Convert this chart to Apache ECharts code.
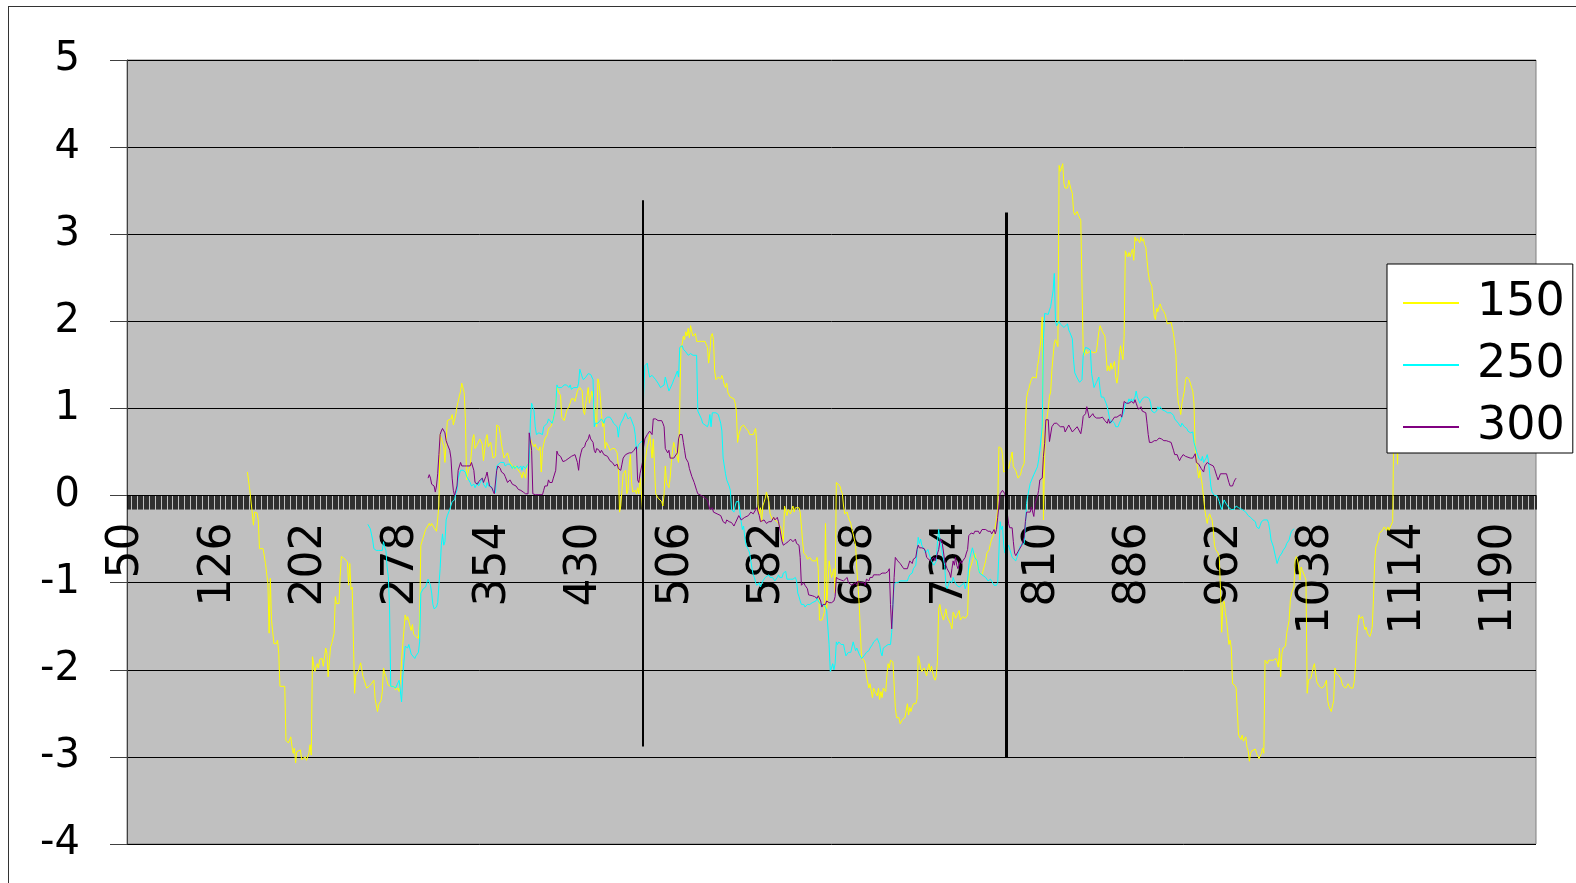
<!DOCTYPE html>
<html>
<head>
<meta charset="utf-8">
<title>150 / 250 / 300</title>
<script src="https://cdn.jsdelivr.net/npm/echarts@6.0.0/dist/echarts.min.js"></script>
<style>
  html, body { margin: 0; padding: 0; background: #fff; overflow: hidden; }
  #chart { position: absolute; left: 0; top: 0; width: 1576px; height: 883px; }
  #frame { position: absolute; left: 8px; top: 6px; width: 1700px; height: 1000px;
           border: 1px solid #333; box-sizing: border-box; pointer-events: none; }
</style>
</head>
<body>
<div id="chart"></div>
<div id="frame"></div>
<script>
// Category axis: one category per step, labelled every 76 steps (50, 126, ... 1190)
const X_FIRST = 50;
const X_LAST = 1220;
const categories = [];
for (let x = X_FIRST; x <= X_LAST; x++) categories.push(String(x));
const LABEL_EVERY = 76;

// Value axis
const yMin = -4, yMax = 5, yStep = 1;

const seriesNames = ['150', '250', '300'];

// [x, value] samples of each series
const s150 = [
[150,0.27],[152,0.06],[153,0.04],[154,-0.20],[155,-0.34],[156,-0.19],[158,-0.20],[159,-0.28],[160,-0.61],[163,-0.61],[165,-0.78],[167,-1.01],[168,-1.58],[169,-0.95],[170,-1.43],[172,-1.70],[174,-1.70],[175,-1.66],[176,-1.81],[177,-2.19],[181,-2.19],[182,-2.81],[184,-2.84],[186,-2.77],[187,-2.88],[188,-2.96],[189,-2.90],[190,-3.07],[191,-2.94],[194,-2.92],[195,-3.03],[198,-3.00],[199,-3.04],[201,-2.96],[202,-2.86],[203,-2.98],[204,-1.85],[206,-2.02],[208,-1.93],[209,-1.98],[210,-1.88],[212,-1.87],[213,-1.96],[215,-1.75],[216,-1.81],[217,-2.08],[219,-1.74],[220,-1.70],[222,-1.58],[223,-1.16],[224,-1.24],[226,-1.24],[227,-0.93],[228,-0.70],[230,-0.72],[231,-0.74],[233,-0.76],[234,-1.03],[235,-0.78],[236,-1.08],[237,-1.05],[239,-2.27],[240,-2.06],[242,-2.02],[244,-1.92],[246,-2.08],[247,-2.12],[249,-2.21],[251,-2.19],[253,-2.16],[255,-2.12],[256,-2.33],[258,-2.48],[259,-2.40],[261,-2.35],[262,-2.25],[263,-1.98],[264,-2.04],[265,-2.08],[267,-2.18],[269,-2.19],[270,-2.21],[272,-2.19],[273,-2.23],
[275,-2.21],[276,-2.25],[277,-2.12],[278,-1.89],[279,-1.71],[281,-1.37],[282,-1.43],[283,-1.39],[284,-1.37],[286,-1.55],[287,-1.48],[288,-1.59],[290,-1.62],[292,-1.64],[293,-1.43],[294,-0.57],[296,-0.48],[298,-0.39],[299,-0.37],[301,-0.32],[302,-0.35],[303,-0.32],[305,-0.37],[306,-0.39],[307,-0.41],[309,-0.12],[310,0.70],[312,0.61],[313,0.56],[314,0.38],[316,0.86],[317,0.88],[319,0.88],[320,0.93],[321,0.81],[323,0.93],[324,1.02],[325,1.08],[327,1.20],[328,1.29],[330,1.18],[331,0.88],[332,0.18],[333,0.25],[334,0.31],[335,0.34],[337,0.65],[338,0.70],[339,0.54],[341,0.59],[342,0.61],[343,0.65],[345,0.59],[346,0.40],[348,0.65],[349,0.70],[350,0.56],[352,0.61],[353,0.59],[354,0.43],[356,0.45],[357,0.81],[359,0.79],[360,0.70],[361,0.59],[363,0.43],[364,0.45],[366,0.49],[367,0.47],[368,0.38],[370,0.34],[371,0.31],[372,0.34],[374,0.31],[375,0.29],[377,0.25],[378,0.20],[379,0.27],[381,0.20],[382,0.34],[384,0.38],[385,0.65],[386,0.61],[388,0.56],[389,0.59],[390,0.54],[392,0.52],[393,0.56],[394,0.27],[395,0.52],[396,0.59],[397,0.65],[399,0.70],[400,0.77],[402,0.79],[403,0.83],[404,0.83],[406,1.02],[407,1.24],[408,1.20],[410,1.15],[411,0.90],[413,0.86],[414,0.88],
[415,0.97],[417,1.02],[418,1.06],[419,1.11],[421,1.11],[422,1.08],[424,1.20],[425,1.22],[426,1.24],[428,1.20],[429,0.97],[430,0.93],[431,1.06],[432,1.15],[433,1.24],[434,1.06],[435,1.04],[436,1.20],[437,1.13],[438,1.02],[439,0.90],[440,0.79],[441,1.34],[442,1.29],[443,1.15],[444,0.93],[445,0.79],[446,0.83],[447,0.54],[448,0.61],[450,0.56],[451,0.52],[453,0.54],[454,0.52],[455,0.54],[457,0.49],[458,0.34],[459,-0.19],[460,-0.12],[461,0.06],[462,0.25],[464,0.29],[465,0.02],[466,0.06],[467,0.34],[468,0.47],[469,0.15],[470,0.04],[472,0.06],[473,0.02],[474,0.09],[475,0.02],[476,0.20],[477,0.06],[478,-0.16],[480,0.38],[482,0.56],[483,0.61],[484,0.70],[486,0.43],[487,0.65],[488,0.34],[489,0.02],[491,-0.03],[492,-0.05],[494,-0.07],[495,-0.12],[496,0.02],[497,0.34],[498,0.15],[500,0.09],[501,0.20],[502,0.38],[503,0.52],[504,0.61],[505,0.63],[507,0.43],[508,0.38],[509,0.36],[510,1.70],[511,1.74],[512,1.83],[513,1.79],[514,1.88],[515,1.83],[516,1.92],[517,1.81],[518,1.95],[519,1.88],[520,1.83],[522,1.86],[523,1.77],[525,1.77],[527,1.77],[530,1.77],[531,1.79],[532,1.70],[533,1.52],[534,1.65],[535,1.83],[536,1.86],[537,1.79],[538,1.43],[539,1.33],[541,1.36],[543,1.34],[544,1.38],[545,1.33],[546,1.27],[547,1.24],[548,1.29],[549,1.18],[551,1.13],[552,1.13],[554,1.11],[555,1.06],[556,0.97],[557,0.61],[558,0.70],[560,0.79],[561,0.79],[562,0.81],[563,0.79],
[564,0.77],[566,0.74],[567,0.70],[568,0.72],[570,0.70],[571,0.74],[572,0.77],[573,0.56],[574,-0.10],[575,-0.21],[576,-0.14],[577,-0.30],[578,-0.12],[580,-0.03],[581,0.04],[582,0.02],[583,-0.07],[584,-0.21],[585,-0.23],[586,-0.28],[587,-0.25],[588,-0.28],[590,-0.30],[591,-0.28],[593,-0.37],[594,-0.46],[595,-0.53],[596,-0.12],[597,-0.10],[598,-0.23],[599,-0.16],[601,-0.21],[602,-0.16],[603,-0.12],[604,-0.19],[605,-0.14],[606,-0.16],[608,-0.14],[609,-0.19],[610,-0.35],[611,-0.53],[612,-0.66],[614,-0.69],[615,-0.73],[617,-0.71],[618,-0.73],[619,-0.75],[620,-0.73],[622,-0.75],[623,-0.71],[624,-0.84],[625,-1.43],[626,-1.41],[627,-1.43],[628,-1.39],[629,-1.34],[630,-0.32],[631,-1.30],[633,-0.75],[634,-0.84],[635,-0.94],[636,-0.89],[637,-0.84],[638,-1.12],[639,0.15],[640,0.13],[642,0.11],[643,0.06],[644,0.02],[645,-0.12],[646,-0.21],[648,-0.19],[649,-0.25],[651,-0.32],[652,-0.39],[653,-0.44],[655,-0.57],[656,-0.84],[657,-1.03],[658,-1.25],[659,-1.57],[660,-1.87],[662,-1.89],[663,-1.93],[664,-2.07],[666,-2.21],[667,-2.16],[669,-2.32],[670,-2.21],[671,-2.25],[673,-2.30],[674,-2.21],[675,-2.34],[676,-2.25],[677,-2.32],[678,-2.21],[680,-2.25],[681,-2.07],[682,-1.93],[683,-1.98],[684,-1.89],[685,-1.87],[686,-1.91],[687,-1.93],[688,-2.43],[689,-2.55],[690,-2.57],[691,-2.55],[692,-2.62],[694,-2.57],[695,-2.59],[696,-2.55],[698,-2.39],[699,-2.52],[700,-2.43],[701,-2.48],[702,-2.43],[703,-2.39],[705,-2.39],
[706,-2.34],[707,-1.84],[708,-1.89],[709,-1.98],[710,-2.02],[712,-1.98],[713,-1.96],[714,-2.07],[715,-1.98],[716,-1.93],[717,-2.02],[718,-1.96],[720,-2.09],[721,-2.12],[722,-2.07],[723,-1.89],[724,-1.30],[725,-1.25],[726,-1.34],[727,-1.32],[728,-1.43],[730,-1.30],[731,-1.39],[732,-1.37],[734,-1.48],[735,-1.53],[736,-1.34],[737,-1.37],[738,-1.41],[739,-1.39],[741,-1.32],[742,-1.43],[743,-1.41],[744,-1.39],[745,-1.41],[746,-1.41],[748,-1.37],[749,-0.94],[750,-0.84],[751,-0.80],[752,-0.75],[753,-0.71],[754,-0.66],[756,-0.80],[757,-0.84],[758,-0.89],[759,-0.91],[760,-0.91],[761,-0.89],[763,-0.75],[764,-0.66],[766,-0.62],[767,-0.55],[768,-0.50],[770,-0.44],[771,-0.35],[772,-0.28],[773,-0.16],[774,0.56],[776,0.54],[777,0.47],[778,0.27],[779,0.25],[782,0.31],
[783,0.37],[785,0.50],[786,0.33],[788,0.29],[789,0.24],[790,0.20],[792,0.24],[793,0.31],[795,0.37],[796,0.79],[797,1.12],[798,1.19],[799,1.23],[800,1.29],[801,1.33],[802,1.36],[803,1.38],[805,1.35],[806,1.48],[807,1.56],[808,1.67],[809,1.82],[810,2.05],[811,-0.28],[812,0.45],[813,0.80],[815,1.00],[816,1.14],[817,1.19],[818,1.44],[820,1.75],[821,1.79],[822,1.75],[823,1.71],[824,3.79],[825,3.72],[826,3.74],[827,3.81],[828,3.58],[829,3.53],[831,3.53],[832,3.62],[833,3.64],[834,3.51],[835,3.47],[836,3.26],[837,3.22],[838,3.20],[839,3.26],[840,3.22],[841,3.24],[842,3.16],[843,3.14],[844,1.67],
[845,1.61],[846,1.68],[847,1.63],[849,1.65],[851,1.65],[853,1.64],[854,1.63],[855,1.65],[857,1.88],[858,1.95],[860,1.88],[861,1.86],[862,1.83],[864,1.43],[865,1.49],[866,1.43],[867,1.52],[868,1.45],[870,1.54],[871,1.36],[872,1.29],[873,1.38],[874,1.61],[875,1.72],[876,1.63],[877,1.56],[878,1.83],[879,2.81],[881,2.74],[882,2.79],[883,2.74],[884,2.79],[885,2.83],[886,2.70],[887,2.97],[888,2.92],[889,2.95],[891,2.90],[892,2.97],[893,2.92],[894,2.95],[895,2.88],[896,2.85],[897,2.70],[898,2.56],[899,2.47],[901,2.40],[902,2.40],[903,2.06],[904,2.02],[905,2.15],[906,2.11],[907,2.17],[908,2.20],[909,2.15],[911,2.11],[912,2.08],[913,2.02],[914,1.97],[915,1.97],[917,1.99],[918,1.97],[919,1.86],[920,1.74],[921,1.61],[922,1.24],[923,1.06],[924,1.02],[925,0.93],[926,1.06],[927,1.13],[928,1.20],[929,1.33],[930,1.36],[931,1.34],[932,1.33],[933,1.29],[934,1.24],[935,1.20],[936,1.06],[937,0.52],[938,0.43],[939,0.29],[940,0.20],[941,0.29],[942,0.20],[943,0.11],[944,-0.03],[945,-0.16],[946,-0.25],[947,-0.32],[948,-0.25],[949,-0.21],[950,-0.25],[951,-0.28],[952,-0.39],[953,-0.57],[954,-0.62],[955,-0.62],[956,-0.66],[957,-0.71],[958,-1.07],[959,-1.57],[960,-1.25],[961,-1.21],[962,-1.34],[963,-1.43],[964,-1.57],[965,-1.71],[966,-1.66],[967,-1.75],[968,-2.16],[970,-2.18],[971,-2.21],[972,-2.21],[973,-2.75],[974,-2.77],[975,-2.80],[976,-2.75],[977,-2.82],[979,-2.77],[980,-2.89],[981,-2.93],[982,-3.05],[983,-2.96],[984,-2.93],[985,-2.93],[987,-2.91],
[988,-2.96],[990,-3.02],[991,-3.04],[992,-2.96],[993,-2.90],[994,-2.96],[995,-1.89],[996,-1.87],[997,-1.93],[998,-1.89],[999,-1.91],[1000,-1.89],[1001,-1.87],[1002,-1.89],[1004,-1.87],[1005,-1.91],[1006,-1.97],[1007,-1.75],[1008,-2.08],[1009,-1.81],[1010,-1.75],[1012,-1.73],[1013,-1.58],[1015,-1.43],[1016,-1.20],[1017,-1.12],[1019,-1.05],[1020,-0.74],[1021,-0.70],[1022,-0.74],[1023,-0.82],[1024,-0.97],[1025,-0.82],[1026,-0.86],[1027,-0.88],[1028,-0.93],[1029,-0.97],[1030,-2.27],[1031,-2.12],[1033,-2.10],[1034,-2.04],[1035,-1.97],[1036,-1.93],[1037,-2.04],[1038,-2.14],[1040,-2.19],[1041,-2.21],[1042,-2.21],[1044,-2.19],[1045,-2.18],[1046,-2.12],[1047,-2.35],[1048,-2.42],[1050,-2.48],[1051,-2.46],[1052,-2.35],[1053,-1.98],[1054,-2.04],[1056,-2.06],[1057,-2.08],[1058,-2.10],[1059,-2.16],[1060,-2.19],[1061,-2.18],[1062,-2.21],[1063,-2.19],[1064,-2.16],[1066,-2.21],[1067,-2.23],[1068,-2.21],[1069,-2.14],[1070,-1.97],[1071,-1.66],[1072,-1.49],[1073,-1.37],[1074,-1.41],[1076,-1.39],[1077,-1.47],[1078,-1.54],[1079,-1.51],[1080,-1.58],[1081,-1.60],[1082,-1.62],[1083,-1.58],[1084,-1.51],[1085,-1.20],[1086,-0.78],[1087,-0.59],[1088,-0.55],[1089,-0.51],[1090,-0.43],[1092,-0.41],[1093,-0.40],[1094,-0.36],[1095,-0.38],[1096,-0.40],[1097,-0.36],[1098,-0.40],[1099,-0.36],[1100,-0.36],[1101,-0.30],[1102,0.95],[1103,1.05],[1104,0.90],[1105,0.36],[1106,0.90],[1107,1.10]
];

const s250 = [
[250,-0.33],[252,-0.38],[253,-0.40],[254,-0.51],[255,-0.61],[257,-0.63],[259,-0.63],[260,-0.61],[262,-0.63],[263,-0.53],[264,-0.59],[265,-0.63],[266,-0.82],[267,-0.93],[268,-1.28],[269,-2.19],[271,-2.19],[273,-2.21],[274,-2.23],[276,-2.12],[278,-2.37],[279,-2.07],[281,-1.73],[282,-1.71],[283,-1.75],[284,-1.71],[286,-1.82],[287,-1.80],[289,-1.87],[290,-1.84],[292,-1.80],[293,-1.68],[294,-1.12],[296,-1.07],[298,-1.05],[299,-1.00],[300,-0.96],[302,-1.03],[303,-1.12],[304,-1.25],[305,-1.30],[307,-1.28],[308,-1.23],[309,-1.03],[310,-0.84],[311,-0.57],[312,-0.44],[313,-0.57],[314,-0.53],[315,-0.28],[316,-0.23],[318,-0.16],[319,-0.14],[320,-0.07],[322,-0.05],[323,0.02],[324,0.06],[325,0.20],[327,0.29],[328,0.27],[329,0.29],[331,0.27],[332,0.22],[333,0.20],[335,0.15],[336,0.11],[338,0.13],[339,0.09],[341,0.15],[342,0.11],[343,0.13],[345,0.20],[346,0.13],[348,0.09],[349,0.15],[350,0.11],[352,0.11],[353,0.09],[354,0.06],[356,0.03],[357,0.34],[358,0.36],[360,0.38],[361,0.40],[363,0.38],[364,0.34],[366,0.36],[367,0.34],[368,0.36],[370,0.31],[371,0.34],[372,0.31],[374,0.34],[375,0.31],[377,0.34],[378,0.29],[379,0.34],[381,0.31],[382,0.34],[384,0.38],[385,0.88],[386,1.06],[387,1.02],[388,0.97],[389,0.79],[390,0.70],[392,0.72],[393,0.70],[395,0.70],[396,0.79],[397,0.81],[399,0.83],[400,0.88],[401,0.86],[403,0.83],[404,0.88],[406,1.02],[407,1.27],[408,1.24],[411,1.24],[413,1.27],
[415,1.27],[417,1.24],[418,1.27],[419,1.22],[421,1.24],[422,1.22],[424,1.24],[425,1.29],[426,1.45],[427,1.43],[428,1.36],[429,1.33],[431,1.36],[432,1.36],[433,1.40],[435,1.39],[436,1.40],[437,1.33],[438,0.79],[439,0.83],[441,0.83],[442,0.81],[444,0.88],[445,0.88],[446,0.83],[447,0.88],[449,0.90],[450,0.88],[451,0.90],[453,0.86],[454,0.83],[455,0.83],[457,0.79],[458,0.67],[459,0.79],[460,0.83],[461,0.83],[462,0.88],[464,0.95],[465,0.93],[466,0.88],[468,0.90],[469,0.88],[471,0.79],[472,0.70],[473,0.52],[474,0.54],[475,0.59],[476,0.61],[478,0.63],[479,1.15],[480,1.49],[482,1.52],[483,1.43],[484,1.36],[486,1.38],[487,1.36],[489,1.33],[490,1.34],[491,1.29],[493,1.24],[494,1.22],[496,1.27],[497,1.36],[498,1.34],[500,1.20],[501,1.22],[503,1.29],[504,1.33],[505,1.36],[507,1.43],[508,1.36],[509,1.70],[511,1.72],[512,1.68],[514,1.65],[515,1.63],[516,1.61],[518,1.63],[520,1.61],[523,1.61],[524,0.97],[525,0.95],[527,0.88],[528,0.83],[530,0.81],[531,0.79],[532,0.79],[533,0.83],[534,0.93],[535,0.79],[536,0.95],[537,0.97],[539,0.95],[541,0.93],[542,0.88],[543,0.83],[544,0.74],[545,0.43],[546,0.34],[547,0.25],[548,0.18],[550,0.11],[551,0.06],[552,-0.16],[554,-0.19],[555,-0.12],[556,-0.07],[558,-0.07],[560,-0.30],[561,-0.39],[562,-0.35],[563,-0.48],
[564,-0.57],[566,-0.62],[567,-0.66],[568,-0.75],[569,-0.84],[570,-0.91],[571,-0.94],[572,-1.00],[573,-1.03],[575,-1.00],[576,-1.05],[577,-1.03],[578,-0.98],[579,-0.96],[580,-0.94],[581,-0.94],[583,-0.91],[584,-0.94],[586,-0.94],[587,-0.96],[588,-0.98],[590,-0.94],[591,-0.91],[592,-0.94],[594,-0.94],[595,-0.89],[597,-0.87],[598,-0.96],[599,-0.94],[601,-0.96],[602,-0.94],[603,-0.96],[605,-0.94],[606,-0.98],[607,-1.12],[608,-1.16],[609,-1.21],[610,-1.25],[612,-1.25],[613,-1.28],[615,-1.25],[616,-1.23],[617,-1.25],[619,-1.23],[620,-1.21],[622,-1.21],[623,-1.18],[624,-1.21],[626,-1.25],[627,-1.23],[628,-1.25],[630,-1.28],[631,-1.32],[632,-1.32],[633,-1.71],[634,-2.02],[635,-1.98],[636,-1.93],[637,-2.00],[638,-1.93],[639,-1.68],[640,-1.71],[641,-1.68],[643,-1.71],[644,-1.73],[645,-1.71],[646,-1.78],[647,-1.84],[648,-1.82],[649,-1.80],[651,-1.80],[652,-1.78],[653,-1.68],[654,-1.73],[655,-1.78],[656,-1.75],[658,-1.82],[659,-1.80],[660,-1.87],[662,-1.84],[663,-1.82],[664,-1.80],[666,-1.78],[667,-1.75],[669,-1.71],[670,-1.68],[671,-1.66],[673,-1.64],[674,-1.62],[675,-1.71],[676,-1.80],[677,-1.84],[678,-1.75],[680,-1.73],[681,-1.73],[682,-1.71],[684,-1.71],[685,-1.57],[686,-1.25],[687,-1.03],[688,-1.00],[690,-1.00],[691,-0.98],[692,-0.98],[693,-0.96],[695,-0.98],[696,-0.96],[698,-0.98],[699,-0.94],[700,-0.91],[702,-0.89],[703,-0.84],[705,-0.80],
[706,-0.66],[707,-0.48],[708,-0.55],[709,-0.50],[710,-0.57],[712,-0.62],[713,-0.66],[715,-0.62],[717,-0.71],[718,-0.75],[720,-0.80],[721,-0.78],[722,-0.75],[723,-0.53],[724,-0.39],[725,-0.50],[727,-0.66],[729,-0.80],[730,-1.03],[731,-1.07],[732,-1.03],[733,-0.98],[735,-1.00],[736,-0.94],[737,-0.98],[738,-1.00],[739,-1.03],[741,-1.05],[742,-1.07],[743,-1.03],[745,-1.00],[746,-1.07],[747,-1.03],[748,-0.98],[749,-0.80],[750,-0.71],[752,-0.60],[753,-0.62],[754,-0.71],[755,-0.73],[756,-0.75],[757,-0.84],[758,-0.89],[760,-0.91],[761,-0.89],[763,-0.94],[764,-0.96],[765,-0.98],[767,-0.96],[768,-0.98],[770,-1.03],[771,-1.05],[772,-1.03],[773,-1.00],[774,-0.66],[775,-0.30],[776,-0.39],[777,-0.35],[778,-0.57],[779,-0.66],[782,-0.57],[784,-0.66],[785,-0.71],[786,-0.71],[788,-0.75],[789,-0.71],[790,-0.66],[792,-0.57],[793,-0.55],[795,-0.55],[796,-0.36],[797,-0.09],[798,0.00],[800,0.14],[803,0.24],[806,0.33],[807,0.41],[808,0.52],[810,0.79],[811,1.80],[812,2.09],[813,2.10],[815,2.08],[816,2.13],[817,2.17],[818,2.26],[819,2.35],[820,2.55],[821,2.00],[822,1.95],[824,2.00],[825,1.97],[826,1.95],[828,1.93],[829,1.95],[831,1.97],[832,1.90],[833,1.87],[835,1.80],[836,1.56],[837,1.41],[838,1.39],[839,1.35],[840,1.33],[841,1.30],[842,1.30],[843,1.33],[844,1.61],[846,1.70],[847,1.71],[848,1.69],[850,1.67],[851,1.40],[853,1.24],[854,1.26],[855,1.30],[857,1.36],[858,1.22],
[859,1.13],[860,1.11],[861,1.13],[862,1.11],[863,1.06],[864,1.02],[866,0.88],[867,0.83],[868,0.86],[870,0.83],[871,0.79],[872,0.81],[873,0.79],[874,0.83],[875,0.86],[876,0.88],[877,0.93],[878,0.97],[879,1.06],[880,1.08],[881,1.06],[882,1.11],[883,1.08],[884,1.11],[885,1.08],[887,1.13],[888,1.20],[889,1.13],[890,1.11],[891,1.06],[892,1.08],[893,1.11],[894,1.10],[895,1.13],[896,1.15],[897,1.13],[899,1.11],[900,1.06],[901,0.97],[902,0.97],[903,0.95],[904,0.97],[905,0.97],[906,1.02],[907,0.99],[908,1.02],[909,0.99],[910,0.97],[912,0.97],[913,0.96],[914,0.95],[915,0.95],[917,0.95],[918,0.94],[919,0.92],[920,0.88],[921,0.86],[923,0.83],[924,0.81],[925,0.79],[926,0.83],[928,0.79],[929,0.78],[930,0.77],[931,0.74],[933,0.72],[934,0.71],[935,0.73],[936,0.61],[937,0.59],[938,0.51],[939,0.47],[940,0.43],[941,0.45],[942,0.40],[943,0.45],[944,0.38],[945,0.38],[946,0.43],[947,0.47],[948,0.40],[949,0.25],[950,0.11],[951,0.04],[952,0.02],[953,0.00],[955,0.00],[956,-0.03],[957,-0.07],[958,-0.12],[959,-0.16],[960,-0.10],[961,-0.05],[962,-0.07],[963,-0.10],[964,-0.12],[965,-0.14],[967,-0.16],[968,-0.14],[969,-0.16],[970,-0.14],[971,-0.12],[972,-0.10],[973,-0.14],[974,-0.16],[976,-0.16],[977,-0.17],[979,-0.19],[980,-0.21],[981,-0.23],[983,-0.25],[984,-0.26],[985,-0.28],[987,-0.30],
[988,-0.36],[990,-0.38],[991,-0.34],[992,-0.30],[994,-0.28],[995,-0.26],[997,-0.28],[998,-0.32],[999,-0.40],[1000,-0.51],[1002,-0.59],[1003,-0.66],[1005,-0.78],[1006,-0.78],[1007,-0.70],[1008,-0.68],[1009,-0.66],[1010,-0.63],[1012,-0.59],[1013,-0.55],[1015,-0.51],[1016,-0.45],[1017,-0.41],[1019,-0.38]
];

const s300 = [
[300,0.20],[301,0.24],[302,0.20],[303,0.13],[305,0.11],[306,0.04],[307,0.11],[308,0.25],[309,0.47],[310,0.70],[311,0.74],[312,0.77],[314,0.72],[315,0.63],[316,0.59],[318,0.52],[319,0.43],[320,0.20],[321,0.06],[322,0.00],[323,0.02],[324,0.11],[325,0.29],[327,0.38],[328,0.34],[330,0.34],[331,0.36],[332,0.34],[335,0.34],[336,0.38],[338,0.29],[339,0.15],[341,0.13],[342,0.16],[343,0.18],[345,0.20],[346,0.15],[348,0.22],[349,0.27],[350,0.25],[351,0.11],[353,0.09],[354,0.05],[355,0.02],[357,0.29],[358,0.34],[360,0.31],[361,0.27],[363,0.25],[364,0.22],[366,0.15],[367,0.13],[368,0.18],[370,0.13],[371,0.11],[373,0.11],[374,0.09],[375,0.07],[377,0.06],[378,0.06],[379,0.04],[381,0.02],[383,0.02],[384,0.72],[385,0.73],[386,0.52],[387,0.02],[389,0.01],[390,0.02],[392,0.01],[393,0.02],[395,0.01],[396,0.06],[397,0.11],[399,0.11],[400,0.18],[401,0.15],[403,0.15],[404,0.20],[406,0.29],[407,0.51],[408,0.47],[410,0.45],[411,0.43],[412,0.39],[414,0.40],
[417,0.43],[419,0.45],[422,0.47],[424,0.38],[425,0.29],[426,0.43],[427,0.49],[428,0.54],[430,0.56],[431,0.61],[433,0.65],[434,0.70],[435,0.65],[437,0.61],[438,0.52],[439,0.49],[440,0.54],[442,0.52],[443,0.49],[444,0.52],[446,0.47],[447,0.49],[449,0.45],[450,0.43],[451,0.40],[453,0.38],[454,0.36],[455,0.34],[457,0.36],[458,0.31],[460,0.29],[461,0.36],[462,0.43],[464,0.47],[465,0.49],[467,0.49],[468,0.47],[469,0.49],[471,0.52],[472,0.52],[473,0.56],[474,0.18],[475,0.15],[476,0.25],[478,0.38],[479,0.56],[480,0.65],[482,0.70],[484,0.74],[485,0.72],[486,0.70],[487,0.88],[488,0.90],[489,0.88],[491,0.86],[494,0.86],[495,0.83],[496,0.79],[497,0.54],[498,0.52],[499,0.49],[500,0.52],[501,0.43],[502,0.43],[504,0.43],[505,0.43],[507,0.49],[508,0.65],[509,0.70],[511,0.70],[512,0.61],[513,0.52],[514,0.43],[516,0.38],[517,0.31],[519,0.22],[520,0.20],[521,0.15],[523,0.06],[524,0.02],[525,0.01],[527,0.00],[530,-0.03],[532,-0.05],[533,-0.07],[534,-0.16],[536,-0.14],[537,-0.19],[538,-0.17],[540,-0.21],[541,-0.19],[543,-0.23],[544,-0.25],[545,-0.30],[547,-0.32],[548,-0.28],[550,-0.30],[551,-0.32],[552,-0.31],[554,-0.35],[555,-0.32],[556,-0.30],[558,-0.23],[559,-0.25],[560,-0.28],[563,-0.25],
[564,-0.23],[566,-0.23],[567,-0.21],[568,-0.19],[570,-0.21],[571,-0.20],[573,-0.14],[574,-0.16],[575,-0.23],[576,-0.30],[577,-0.32],[579,-0.28],[580,-0.30],[581,-0.32],[583,-0.30],[584,-0.28],[585,-0.30],[587,-0.25],[588,-0.28],[590,-0.25],[591,-0.30],[592,-0.32],[594,-0.53],[595,-0.57],[597,-0.55],[598,-0.55],[599,-0.53],[601,-0.50],[602,-0.52],[603,-0.53],[605,-0.50],[606,-0.55],[608,-0.57],[609,-0.71],[610,-1.03],[611,-1.03],[612,-1.00],[613,-1.03],[615,-1.07],[616,-1.14],[617,-1.16],[619,-1.15],[620,-1.17],[621,-1.16],[623,-1.18],[624,-1.15],[626,-1.21],[627,-1.28],[628,-1.25],[629,-1.23],[630,-1.25],[631,-1.21],[633,-1.23],[634,-1.21],[635,-1.23],[637,-1.21],[638,-1.16],[639,-0.94],[640,-0.96],[641,-0.96],[643,-0.97],[644,-0.96],[645,-0.98],[646,-1.00],[648,-0.94],[649,-1.00],[650,-0.98],[652,-1.03],[653,-1.05],[655,-1.00],[656,-1.03],[657,-0.98],[659,-1.00],[660,-0.98],[662,-1.00],[663,-1.03],[664,-0.96],[666,-0.98],[667,-0.94],[669,-0.94],[670,-0.91],[671,-0.89],[673,-0.91],[674,-0.89],[675,-0.91],[677,-0.89],[678,-0.91],[680,-0.89],[681,-0.87],[682,-0.87],[683,-0.84],[684,-1.25],[685,-1.53],[686,-1.25],[687,-0.94],[688,-0.71],[689,-0.71],[690,-0.75],[691,-0.75],[692,-0.78],[693,-0.80],[695,-0.84],[696,-0.82],[698,-0.84],[699,-0.84],[700,-0.75],[702,-0.78],[703,-0.73],[705,-0.71],
[706,-0.62],[707,-0.57],[708,-0.60],[709,-0.62],[710,-0.60],[712,-0.61],[713,-0.64],[714,-0.71],[715,-0.69],[717,-0.75],[718,-0.73],[720,-0.71],[721,-0.75],[722,-0.71],[724,-0.62],[725,-0.53],[726,-0.50],[727,-0.55],[728,-0.57],[729,-0.75],[730,-0.80],[731,-0.84],[733,-0.89],[734,-0.94],[735,-0.84],[736,-0.75],[737,-0.80],[738,-0.71],[739,-0.80],[740,-0.84],[742,-0.75],[743,-0.78],[744,-0.75],[746,-0.71],[747,-0.66],[748,-0.62],[749,-0.46],[750,-0.44],[751,-0.43],[753,-0.44],[754,-0.41],[755,-0.43],[757,-0.41],[758,-0.44],[760,-0.39],[761,-0.41],[763,-0.39],[764,-0.38],[765,-0.41],[767,-0.41],[768,-0.44],[770,-0.39],[771,-0.44],[772,-0.39],[773,-0.25],[775,0.02],[776,0.04],[777,0.06],[778,0.04],[779,0.02],[782,-0.32],[783,-0.37],[785,-0.37],[786,-0.53],[787,-0.66],[788,-0.69],[790,-0.64],[791,-0.66],[793,-0.57],[795,-0.48],[796,-0.30],
[797,-0.19],[800,-0.19],[801,-0.13],[803,-0.24],[804,-0.09],[806,-0.01],[807,0.06],[808,0.18],[810,0.20],[811,0.45],[812,0.60],[813,0.87],[814,0.89],[815,0.87],[816,0.62],[817,0.64],[818,0.79],[820,0.83],[822,0.83],[825,0.79],[828,0.79],[829,0.73],[832,0.81],[835,0.73],[836,0.71],[839,0.79],[842,0.71],[843,0.79],[844,0.91],[846,0.94],[847,1.02],[848,1.02],[849,0.89],[850,0.87],[852,0.94],[853,0.91],[855,0.89],[858,0.89],
[860,0.90],[861,0.88],[862,0.86],[864,0.83],[865,0.88],[866,0.83],[868,0.86],[869,0.88],[870,0.90],[872,0.90],[873,0.88],[875,0.93],[876,0.90],[877,0.88],[878,1.08],[880,1.06],[881,1.08],[882,1.06],[883,1.07],[884,1.08],[886,1.06],[887,1.10],[888,1.06],[889,1.02],[890,0.99],[892,1.02],[893,0.97],[894,0.99],[896,0.95],[897,0.83],[898,0.70],[899,0.61],[900,0.59],[901,0.61],[902,0.60],[903,0.63],[904,0.62],[905,0.63],[907,0.66],[908,0.68],[909,0.65],[910,0.64],[911,0.63],[912,0.62],[913,0.63],[914,0.61],[915,0.62],[917,0.61],[918,0.59],[919,0.52],[920,0.47],[921,0.48],[922,0.47],[923,0.43],[924,0.40],[925,0.43],[926,0.45],[927,0.47],[929,0.45],[930,0.46],[931,0.44],[932,0.45],[933,0.43],[934,0.42],[935,0.43],[937,0.48],[938,0.38],[939,0.38],[940,0.36],[941,0.34],[942,0.31],[943,0.29],[944,0.27],[945,0.34],[946,0.36],[947,0.38],[948,0.37],[949,0.36],[950,0.36],[952,0.34],[953,0.31],[954,0.29],[955,0.22],[956,0.18],[957,0.20],[958,0.25],[959,0.25],[961,0.25],[962,0.25],[963,0.25],[965,0.15],[966,0.11],[967,0.09],[968,0.11],[969,0.15],[970,0.18],[971,0.20]
];

// Two vertical marker lines: [x, top value, bottom value]
const markers = [[478, 3.39, -2.88], [780, 3.25, -3.00]];

const seriesData = [s150, s250, s300];
const seriesColors = ['#ffff00', '#00ffff', '#800080'];
const markerWidths = [2, 3];
const FONT = 'DejaVu Sans';

// Plot box (pixels) and the resulting distance of the zero line above the bottom edge
const GRID = { left: 127, right: 40, top: 60, bottom: 39 };
const CHART_H = 883;
const plotH = CHART_H - GRID.top - GRID.bottom;
const zeroLift = plotH * (0 - yMin) / (yMax - yMin);

const toPoints = arr => arr.map(p => [String(p[0]), p[1]]);

const series = seriesNames.map((name, i) => ({
  name: name,
  type: 'line',
  data: toPoints(seriesData[i]),
  showSymbol: false,
  symbol: 'none',
  lineStyle: { color: seriesColors[i], width: 1 },
  itemStyle: { color: seriesColors[i] },
  emphasis: { disabled: true },
  silent: true,
  z: 2 + i
}));

series[series.length - 1].markLine = {
  silent: true,
  symbol: ['none', 'none'],
  label: { show: false },
  emphasis: { disabled: true },
  animation: false,
  data: markers.map((m, i) => [
    { coord: [String(m[0]), m[1]], lineStyle: { color: '#000', width: markerWidths[i], type: 'solid' } },
    { coord: [String(m[0]), m[2]] }
  ])
};

const chart = echarts.init(document.getElementById('chart'), null, { renderer: 'canvas' });
chart.setOption({
  animation: false,
  backgroundColor: 'transparent',
  grid: {
    left: GRID.left, right: GRID.right, top: GRID.top, bottom: GRID.bottom,
    show: true, backgroundColor: '#c0c0c0', borderColor: '#808080', borderWidth: 1,
    containLabel: false, outerBoundsMode: 'none'
  },
  legend: {
    orient: 'vertical',
    left: 1387, top: 264,
    padding: [16, 8, 3, 16],
    itemWidth: 56, itemHeight: 2, itemGap: 16,
    icon: 'rect',
    backgroundColor: '#ffffff', borderColor: '#000000', borderWidth: 1, borderRadius: 0,
    textStyle: { fontFamily: FONT, fontSize: 46, lineHeight: 46, color: '#000', padding: [0, 0, 0, 13] },
    selectedMode: false,
    data: seriesNames
  },
  xAxis: {
    type: 'category',
    data: categories,
    boundaryGap: false,
    position: 'bottom',
    offset: -zeroLift,
    axisLine: { show: true, onZero: false, lineStyle: { color: '#000', width: 1 } },
    axisTick: { show: true, interval: 0, length: 14, lineStyle: { color: '#000', width: 0.75 } },
    axisLabel: {
      interval: LABEL_EVERY - 1, rotate: 90, margin: 27,
      fontFamily: FONT, fontSize: 44, color: '#000', hideOverlap: false
    },
    splitLine: { show: false }
  },
  yAxis: {
    type: 'value',
    min: yMin, max: yMax, interval: yStep,
    axisLine: { show: true, lineStyle: { color: '#404040', width: 1 } },
    axisTick: { show: true, length: 17, lineStyle: { color: '#404040', width: 1 } },
    axisLabel: { fontFamily: FONT, fontSize: 40, color: '#000', margin: 47 },
    splitLine: { show: true, lineStyle: { color: '#000', width: 1 } }
  },
  series: series
});
</script>
</body>
</html>
